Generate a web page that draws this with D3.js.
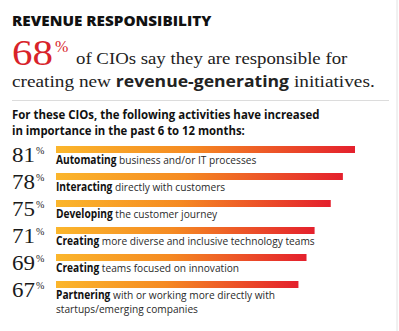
<!DOCTYPE html>
<html>
<head>
<meta charset="utf-8">
<title>Revenue responsibility</title>
<script src="https://d3js.org/d3.v7.min.js"></script>
<style>
  body { margin: 0; background: #fff; }
  svg { display: block; }
  .serif { font-family: "Liberation Serif", "DejaVu Serif", serif; }
  .sans { font-family: "Open Sans", "Noto Sans", sans-serif; }
</style>
</head>
<body>
<div id="chart"></div>
<script>
// ---------------- data ----------------
var headlinePct = 68;
var pcts = [81, 78, 75, 71, 69, 67];
var leads = ["Automating", "Interacting", "Developing", "Creating", "Creating", "Partnering"];
var rests = [
  [" business and/or IT processes"],
  [" directly with customers"],
  [" the customer journey"],
  [" more diverse and inclusive technology teams"],
  [" teams focused on innovation"],
  [" with or working more directly with", "startups/emerging companies"]
];

// ---------------- setup ----------------
var W = 399, H = 331;
var barX = 56, rowTop = 146, rowStep = 27, barH = 7;

var svg = d3.select("#chart").append("svg")
  .attr("width", W)
  .attr("height", H);

var defs = svg.append("defs");
var grad = defs.append("linearGradient").attr("id", "barGrad");
grad.append("stop").attr("offset", "0%").attr("stop-color", "#fbb62c");
grad.append("stop").attr("offset", "45%").attr("stop-color", "#f58a22");
grad.append("stop").attr("offset", "100%").attr("stop-color", "#e4202d");

var x = d3.scaleLinear().domain([7, 81]).range([0, 299]);
var y = d3.scaleBand().domain(d3.range(pcts.length))
  .range([rowTop, rowTop + rowStep * pcts.length]).paddingInner(0).paddingOuter(0);

// squeeze a text block horizontally so it spans the given width
function fitText(g, x0, y0, width) {
  var w = g.select("text").node().getBBox().width;
  g.attr("transform", "translate(" + x0 + "," + y0 + ") scale(" + (width / w) + ",1)");
}

// frame line on the right and rule under the headline
svg.append("line").attr("x1", 397).attr("x2", 397).attr("y1", 0).attr("y2", H)
  .attr("stroke", "#e2e2e2").attr("stroke-width", 1);
svg.append("line").attr("x1", 12).attr("x2", 389).attr("y1", 100.5).attr("y2", 100.5)
  .attr("stroke", "#dcdcdc").attr("stroke-width", 1);

// ---------------- headline ----------------
var title = svg.append("g");
title.append("text").attr("class", "sans")
  .style("font-size", "14.5px").style("font-weight", 800).attr("fill", "#111")
  .text("REVENUE RESPONSIBILITY");
fitText(title, 12, 26, 200);

var big = svg.append("g");
big.append("text").attr("class", "serif")
  .style("font-size", "35px").attr("fill", "#d8232a")
  .text(headlinePct);
fitText(big, 12, 65, 41);
svg.append("text").attr("class", "serif")
  .attr("x", 55).attr("y", 52)
  .style("font-size", "16px").attr("fill", "#d8232a")
  .text("%");

var l1 = svg.append("g");
l1.append("text").attr("class", "serif")
  .style("font-size", "17px").attr("fill", "#222")
  .text("of CIOs say they are responsible for");
fitText(l1, 76, 64, 272);

var l2 = svg.append("g");
var l2t = l2.append("text").attr("class", "serif").style("font-size", "17px").attr("fill", "#222");
l2t.append("tspan").text("creating new ");
l2t.append("tspan").attr("class", "sans").style("font-weight", 700).style("font-size", "15.5px").text("revenue-generating");
l2t.append("tspan").text(" initiatives.");
fitText(l2, 12, 87, 363);

// ---------------- sub heading ----------------
var s1 = svg.append("g");
s1.append("text").attr("class", "sans")
  .style("font-size", "12.5px").style("font-weight", 700).attr("fill", "#111")
  .text("For these CIOs, the following activities have increased");
fitText(s1, 12, 119, 308);
var s2 = svg.append("g");
s2.append("text").attr("class", "sans")
  .style("font-size", "12.5px").style("font-weight", 700).attr("fill", "#111")
  .text("in importance in the past 6 to 12 months:");
fitText(s2, 12, 135, 233);

// ---------------- rows ----------------
var rows = svg.selectAll("g.row")
  .data(pcts)
  .enter()
  .append("g")
  .attr("class", "row");

rows.append("rect")
  .attr("x", barX)
  .attr("y", function(d, i) { return y(i); })
  .attr("width", function(d) { return x(d); })
  .attr("height", barH)
  .attr("fill", "url(#barGrad)");

rows.each(function(d, i) {
  var g = d3.select(this).append("g");
  g.append("text").attr("class", "serif")
    .style("font-size", "21px").attr("fill", "#1a1a1a")
    .text(d);
  fitText(g, 12, y(i) + 16, 23);
});

rows.append("text").attr("class", "serif")
  .attr("x", 36)
  .attr("y", function(d, i) { return y(i) + 8; })
  .style("font-size", "10px").attr("fill", "#1a1a1a")
  .text("%");

// labels share one horizontal squeeze, taken from the longest line
var labelScale = null;
rows.each(function(d, i) {
  var g = d3.select(this).append("g").attr("class", "lab");
  var t = g.append("text").attr("class", "sans")
    .style("font-size", "11.5px").attr("fill", "#2a2a2a");
  t.append("tspan").style("font-weight", 700).attr("fill", "#111").text(leads[i]);
  t.append("tspan").text(rests[i][0]);
  if (rests[i][1]) {
    t.append("tspan").attr("x", 0).attr("dy", 14).text(rests[i][1]);
  }
  if (i === 3) labelScale = 259 / t.node().getBBox().width;
});
rows.selectAll("g.lab")
  .attr("transform", function() {
    var i = pcts.indexOf(d3.select(this.parentNode).datum());
    return "translate(" + barX + "," + (y(i) + 18) + ") scale(" + labelScale + ",1)";
  });
</script>
</body>
</html>
